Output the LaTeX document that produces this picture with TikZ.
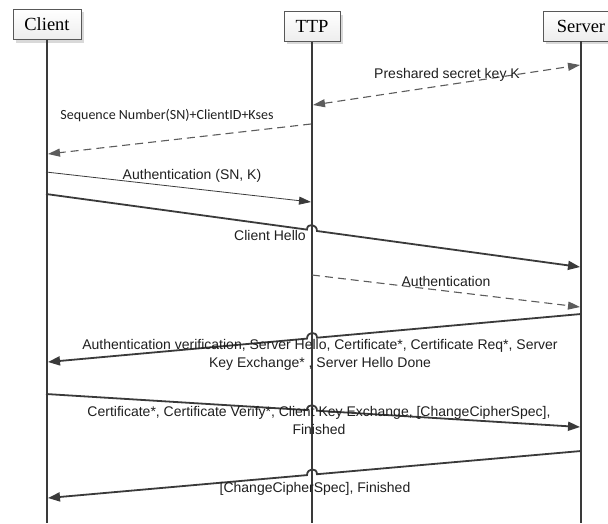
\documentclass[tikz,border=0pt]{standalone}
\usepackage{fontspec}
\setmainfont{Liberation Serif}
\newfontfamily\arialf{Liberation Sans}
\newfontfamily\calif{Carlito}
\usetikzlibrary{arrows.meta,calc}
\definecolor{ln}{HTML}{3A3A3A}
\definecolor{dl}{HTML}{5C5C5C}
\begin{document}
\begin{tikzpicture}[x=1pt,y=-1pt,
  actor/.style={draw=ln!85, line width=0.8pt, top color=white, bottom color=gray!14, minimum height=30pt, inner sep=0pt, font=\fontsize{18.5}{20}\selectfont},
  shade/.style={fill=gray!30},
  life/.style={draw=ln, line width=2pt},
  msg/.style={draw=ln, line width=1.8pt, -{Triangle[length=12pt,width=9pt]}},
  thinmsg/.style={draw=ln, line width=0.8pt, -{Triangle[length=12pt,width=8pt]}},
  dmsg/.style={draw=dl, line width=1.1pt, dash pattern=on 8pt off 5pt, -{Triangle[length=12pt,width=8pt]}},
  lbl/.style={font=\arialf\fontsize{14}{18}\selectfont, text=black!88, inner sep=0pt, align=center},
]
\useasboundingbox (0,0) rectangle (608,523);

% actor boxes with shadows
\fill[shade] (16,12) rectangle (84,43);
\node[actor, minimum width=68pt] (client) at (47,24.5) {Client};
\fill[shade] (287,15) rectangle (343,44);
\node[actor, minimum width=56pt] (ttp) at (312,26.5) {TTP};
\fill[shade] (546,14) rectangle (622,44);
\node[actor, minimum width=76pt] (server) at (581,26) {Server};

% lifelines
\coordinate (cbot) at (47,523);
\coordinate (tbot) at (312,523);
\coordinate (sbot) at (581,523);
\draw[life] (client.south) -- (cbot);
\draw[life] (ttp.south) -- (tbot);
\draw[life] (server.south) -- (sbot);

% 1 preshared key
\coordinate (m1a) at (313,105);
\coordinate (m1b) at (580,65);
\draw[dmsg, {Triangle[length=12pt,width=8pt]}-{Triangle[length=12pt,width=8pt]}] (m1a) -- (m1b);
\node[lbl] (l1) at (447,75) {Preshared secret key K};

% 2 sequence number
\coordinate (m2a) at (311,124);
\coordinate (m2b) at (48,154);
\draw[dmsg] (m2a) -- (m2b);
\node[lbl, font=\calif\fontsize{14}{18}\selectfont] (l2) at (167,116) {Sequence Number(SN)+ClientID+Kses};

% 3 authentication (SN,K)
\coordinate (m3a) at (46,172);
\coordinate (m3b) at (311,202);
\draw[thinmsg] (m3a) -- (m3b);
\node[lbl] (l3) at (192,176) {Authentication (SN, K)};

% 4 client hello
\coordinate (m4a) at (46,194);
\coordinate (j4a) at (307,229.6);
\coordinate (j4b) at (317,231.0);
\coordinate (m4b) at (580,267);
\draw[msg] (m4a) -- (j4a) .. controls +(0,-7) and +(0,-7) .. (j4b) -- (m4b);
\node[lbl, anchor=east] (l4) at (306,235) {Client Hello};

% 5 authentication
\coordinate (m5a) at (312,275);
\coordinate (m5b) at (580,307);
\draw[dmsg] (m5a) -- (m5b);
\node[lbl] (l5) at (446,281) {Authentication};

% 6 authentication verification
\coordinate (m6a) at (581,314);
\coordinate (j6a) at (317,337.7);
\coordinate (j6b) at (307,338.6);
\coordinate (m6b) at (48,362);
\draw[msg] (m6a) -- (j6a) .. controls +(0,-7) and +(0,-7) .. (j6b) -- (m6b);
\node[lbl] (l6) at (320,355) {Authentication verification, Server Hello, Certificate*, Certificate Req*, Server\\Key Exchange* , Server Hello Done};

% 7 certificate
\coordinate (m7a) at (46,394);
\coordinate (j7a) at (307,410.1);
\coordinate (j7b) at (317,410.7);
\coordinate (m7b) at (580,427);
\draw[msg] (m7a) -- (j7a) .. controls +(0,-7) and +(0,-7) .. (j7b) -- (m7b);
\node[lbl] (l7) at (319,420.5) {Certificate*, Certificate Verify*, Client Key Exchange, [ChangeCipherSpec],\\Finished};

% 8 change cipher spec
\coordinate (m8a) at (581,451);
\coordinate (j8a) at (317,474.2);
\coordinate (j8b) at (307,475.1);
\coordinate (m8b) at (48,498);
\draw[msg] (m8a) -- (j8a) .. controls +(0,-7) and +(0,-7) .. (j8b) -- (m8b);
\node[lbl] (l8) at (315,489) {[ChangeCipherSpec], Finished};
\end{tikzpicture}
\end{document}
